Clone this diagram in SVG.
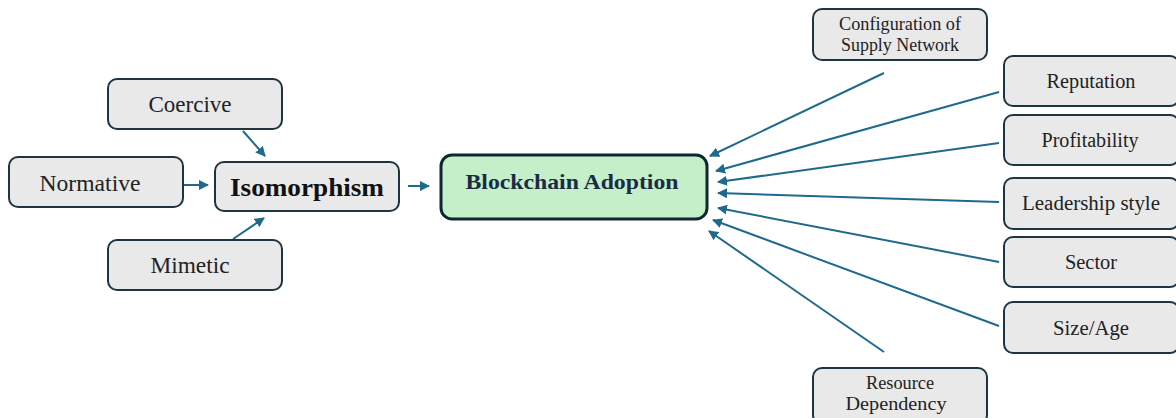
<svg xmlns="http://www.w3.org/2000/svg" width="1176" height="418" viewBox="0 0 1176 418">
  <style>
    .box { fill: #e9e9e9; stroke: #1d3541; stroke-width: 2; }
    .core { fill: #c4efc9; stroke: #0f2731; stroke-width: 3; }
    text { font-family: 'Liberation Serif', 'DejaVu Serif', serif; fill: #222; text-anchor: middle; }
    .link { stroke: #1f6a8c; stroke-width: 2; fill: none; marker-end: url(#arr); }
  </style>
  <defs>
    <marker id="arr" viewBox="0 0 10 10" refX="9" refY="5" markerWidth="5" markerHeight="5" orient="auto" markerUnits="strokeWidth">
      <path d="M0,0 L10,5 L0,10 z" fill="#1f6a8c"/>
    </marker>
  </defs>
  <rect width="1176" height="418" fill="#ffffff"/>

  <g id="connectors">
    <line class="link" x1="243" y1="131" x2="265" y2="156"/>
    <line class="link" x1="184" y1="185" x2="208" y2="185"/>
    <line class="link" x1="233" y1="239" x2="264" y2="218"/>
    <line class="link" x1="408" y1="186" x2="429" y2="186"/>
    <line class="link" x1="884" y1="73" x2="710" y2="156"/>
    <line class="link" x1="999" y1="92" x2="716" y2="171"/>
    <line class="link" x1="999" y1="143" x2="718" y2="182"/>
    <line class="link" x1="999" y1="202" x2="718" y2="193"/>
    <line class="link" x1="999" y1="262" x2="718" y2="208"/>
    <line class="link" x1="999" y1="326" x2="713" y2="220"/>
    <line class="link" x1="884" y1="352" x2="709" y2="231"/>
  </g>

  <g id="coercive">
    <rect class="box" x="108" y="79" width="174" height="50" rx="9"/>
    <text x="190" y="112" font-size="23" textLength="83" lengthAdjust="spacingAndGlyphs">Coercive</text>
  </g>
  <g id="normative">
    <rect class="box" x="9" y="157" width="174" height="50" rx="9"/>
    <text x="90" y="191" font-size="23" textLength="101" lengthAdjust="spacingAndGlyphs">Normative</text>
  </g>
  <g id="mimetic">
    <rect class="box" x="108" y="240" width="174" height="50" rx="9"/>
    <text x="190" y="273" font-size="23" textLength="79" lengthAdjust="spacingAndGlyphs">Mimetic</text>
  </g>
  <g id="isomorphism">
    <rect class="box" x="215" y="162" width="184" height="49" rx="9"/>
    <text x="307" y="196" font-size="26" font-weight="bold" textLength="154" lengthAdjust="spacingAndGlyphs" style="fill:#111">Isomorphism</text>
  </g>
  <g id="blockchain">
    <rect class="core" x="441" y="155" width="266" height="64" rx="11"/>
    <text x="572" y="189" font-size="22" font-weight="bold" textLength="213" lengthAdjust="spacingAndGlyphs" style="fill:#1b2a45">Blockchain Adoption</text>
  </g>
  <g id="config">
    <rect class="box" x="813" y="9" width="174" height="51" rx="9"/>
    <text x="900" y="30" font-size="18" textLength="122" lengthAdjust="spacingAndGlyphs">Configuration of</text>
    <text x="900" y="51" font-size="18" textLength="118" lengthAdjust="spacingAndGlyphs">Supply Network</text>
  </g>
  <g id="reputation">
    <rect class="box" x="1004" y="56" width="175" height="50" rx="9"/>
    <text x="1091" y="88" font-size="20" textLength="89" lengthAdjust="spacingAndGlyphs">Reputation</text>
  </g>
  <g id="profitability">
    <rect class="box" x="1004" y="115" width="175" height="50" rx="9"/>
    <text x="1090" y="147" font-size="20" textLength="97" lengthAdjust="spacingAndGlyphs">Profitability</text>
  </g>
  <g id="leadership">
    <rect class="box" x="1004" y="178" width="175" height="51" rx="9"/>
    <text x="1091" y="210" font-size="20" textLength="138" lengthAdjust="spacingAndGlyphs">Leadership  style</text>
  </g>
  <g id="sector">
    <rect class="box" x="1004" y="237" width="175" height="50" rx="9"/>
    <text x="1091" y="269" font-size="20" textLength="52" lengthAdjust="spacingAndGlyphs">Sector</text>
  </g>
  <g id="sizeage">
    <rect class="box" x="1004" y="302" width="175" height="51" rx="9"/>
    <text x="1091" y="335" font-size="20" textLength="76" lengthAdjust="spacingAndGlyphs">Size/Age</text>
  </g>
  <g id="resource">
    <rect class="box" x="813" y="368" width="174" height="56" rx="9"/>
    <text x="900" y="389" font-size="18" textLength="68" lengthAdjust="spacingAndGlyphs">Resource</text>
    <text x="896" y="410" font-size="18" textLength="101" lengthAdjust="spacingAndGlyphs">Dependency</text>
  </g>
</svg>
